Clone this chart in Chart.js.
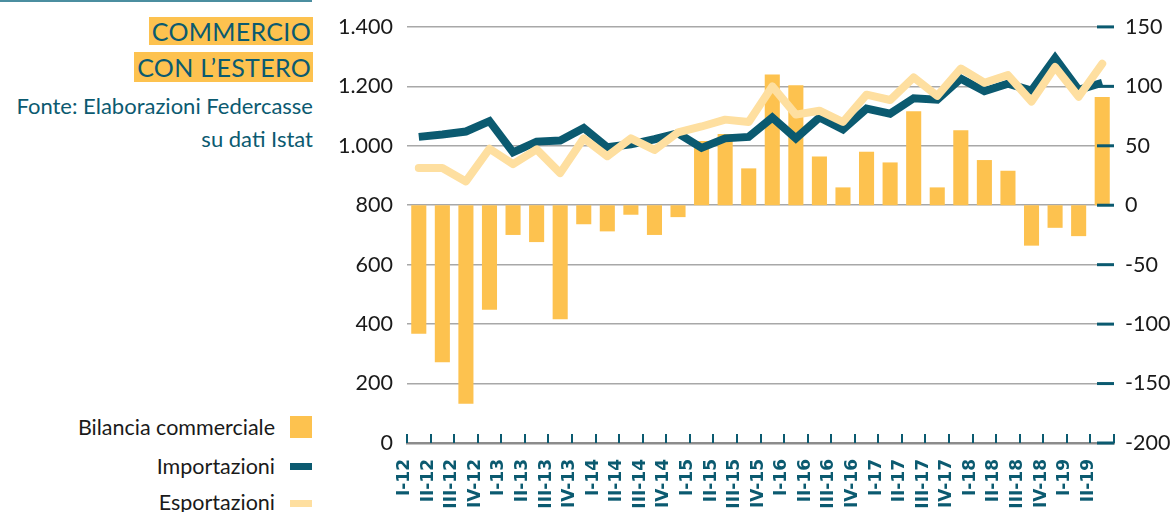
<!DOCTYPE html>
<html lang="it">
<head>
<meta charset="utf-8">
<title>Commercio con l'estero</title>
<script src="https://cdn.jsdelivr.net/npm/chart.js@4.4.0/dist/chart.umd.min.js"></script>
<style>
    html, body { margin: 0; padding: 0; background: #fff; }
    body { width: 1173px; height: 512px; position: relative; overflow: hidden; font-family: Lato, sans-serif; }
    #grafico { position: absolute; left: 0; top: 0; }
    .filetto { position: absolute; left: 0; top: 0; width: 312px; height: 2px; background: #4b8ea0; }
    .titolo { position: absolute; right: 860px; top: 16px; text-align: right; color: #0b5a70; font-size: 25px; letter-spacing: 0.3px; }
    .titolo span { display: inline-block; background: #fdc24f; padding: 0 2px 0 3px; line-height: 28px; }
    .titolo .riga2 { margin-top: 6px; line-height: 30px; }
    .fonte { position: absolute; right: 860px; top: 89px; text-align: right; color: #0b5a70; font-size: 22px; line-height: 33px; }
    .legenda { position: absolute; left: 0; width: 312px; height: 24px; }
    .legenda .testo { position: absolute; right: 37px; top: 0; line-height: 24px; font-size: 21.5px; color: #1a1a1a; white-space: nowrap; }
    .legenda .box { position: absolute; right: 0; width: 22px; }
</style>
</head>
<body>
<div class="filetto"></div>
<div class="titolo"><span>COMMERCIO</span><br><span class="riga2">CON L’ESTERO</span></div>
<div class="fonte">Fonte: Elaborazioni Federcasse<br>su dati Istat</div>

<div class="legenda" style="top:415px"><div class="testo">Bilancia commerciale</div><div class="box" style="top:1px;height:22px;background:#fdc24f"></div></div>
<div class="legenda" style="top:454px"><div class="testo">Importazioni</div><div class="box" style="top:9px;height:7px;background:#0b5a70"></div></div>
<div class="legenda" style="top:490px"><div class="testo">Esportazioni</div><div class="box" style="top:10px;height:7px;background:#fedfa0"></div></div>

<canvas id="grafico" width="1173" height="512"></canvas>

<script>
const categorie = ['I-12', 'II-12', 'III-12', 'IV-12', 'I-13', 'II-13', 'III-13', 'IV-13',
    'I-14', 'II-14', 'III-14', 'IV-14', 'I-15', 'II-15', 'III-15', 'IV-15',
    'I-16', 'II-16', 'III-16', 'IV-16', 'I-17', 'II-17', 'III-17', 'IV-17',
    'I-18', 'II-18', 'III-18', 'IV-18', 'I-19', 'II-19'];

// bilancia commerciale (asse destro)
const bilancia = [-108, -132, -167, -88, -25, -31, -96, -16,
    -22, -8, -25, -10, 54, 60, 31, 110,
    101, 41, 15, 45, 36, 79, 15, 63,
    38, 29, -34, -19, -26, 91];

// asse sinistro
const importazioni = [1030, 1038, 1048, 1083, 978, 1014, 1018, 1060,
    995, 1005, 1022, 1042, 993, 1025, 1030, 1095,
    1025, 1095, 1055, 1125, 1108, 1160, 1155, 1226,
    1184, 1209, 1186, 1295, 1188, 1212];

const esportazioni = [925, 925, 880, 990, 938, 988, 908, 1025,
    965, 1025, 986, 1045, 1065, 1088, 1080, 1200,
    1105, 1118, 1080, 1172, 1154, 1230, 1168, 1260,
    1212, 1238, 1149, 1265, 1165, 1276];

const etichetteSx = ['0', '200', '400', '600', '800', '1.000', '1.200', '1.400'];
const etichetteDx = ['-200', '-150', '-100', '-50', '0', '50', '100', '150'];

const BLU = '#0b5a70';

// tacche blu sugli assi (verso l'interno)
const tacche = {
    id: 'tacche',
    afterDraw(chart) {
        const ctx = chart.ctx;
        const area = chart.chartArea;
        const x = chart.scales.x;
        const y2 = chart.scales.y2;
        ctx.save();
        ctx.strokeStyle = BLU;
        ctx.lineWidth = 3;
        y2.ticks.forEach((t, i) => {
            const py = y2.getPixelForTick(i);
            ctx.beginPath();
            ctx.moveTo(area.right - 17, py);
            ctx.lineTo(area.right, py);
            ctx.stroke();
        });
        ctx.lineWidth = 2;
        for (let i = 0; i <= categorie.length; i++) {
            const px = Math.round(x.getPixelForValue(i - 0.5));
            ctx.beginPath();
            ctx.moveTo(px, area.bottom);
            ctx.lineTo(px, area.bottom - 9);
            ctx.stroke();
        }
        ctx.restore();
    }
};

const ctx = document.getElementById('grafico').getContext('2d');

const myChart = new Chart(ctx, {
    type: 'bar',
    data: {
        labels: categorie,
        datasets: [
            {
                type: 'line',
                label: 'Esportazioni',
                data: esportazioni,
                yAxisID: 'y',
                borderColor: '#fedfa0',
                borderWidth: 8,
                borderCapStyle: 'round',
                borderJoinStyle: 'round',
                pointRadius: 0,
                tension: 0,
                order: 1
            },
            {
                type: 'line',
                label: 'Importazioni',
                data: importazioni,
                yAxisID: 'y',
                borderColor: BLU,
                borderWidth: 8,
                borderJoinStyle: 'miter',
                pointRadius: 0,
                tension: 0,
                order: 2
            },
            {
                label: 'Bilancia commerciale',
                data: bilancia,
                yAxisID: 'y2',
                backgroundColor: '#fdc24f',
                categoryPercentage: 1,
                barPercentage: 0.64,
                order: 3
            }
        ]
    },
    options: {
        responsive: false,
        animation: false,
        layout: { padding: { top: 25, left: 320, right: 0, bottom: 0 } },
        plugins: {
            legend: { display: false },
            tooltip: { enabled: false }
        },
        scales: {
            x: {
                grid: { display: false },
                border: { display: true, color: '#8c8c8c', width: 2.5 },
                ticks: {
                    autoSkip: false,
                    minRotation: 90,
                    maxRotation: 90,
                    padding: 8,
                    labelOffset: -14,
                    color: BLU,
                    font: { family: 'DejaVu Sans', size: 17, weight: 'bold' }
                },
                afterFit: (s) => { s.height = 69; }
            },
            y: {
                position: 'left',
                min: 0,
                max: 1400,
                grid: { color: '#a8a8a8', lineWidth: 1.5, drawTicks: false },
                border: { display: false },
                ticks: {
                    stepSize: 200,
                    padding: 14,
                    color: '#1a1a1a',
                    font: { family: 'Lato', size: 21.5 },
                    callback: (v, i) => etichetteSx[i]
                },
                afterFit: (s) => { s.width = 87; }
            },
            y2: {
                position: 'right',
                min: -200,
                max: 150,
                grid: { display: false },
                border: { display: false },
                ticks: {
                    stepSize: 50,
                    padding: 3,
                    color: '#1a1a1a',
                    font: { family: 'Lato', size: 21.5 },
                    callback: (v, i) => etichetteDx[i]
                },
                afterFit: (s) => { s.width = 59; }
            }
        }
    },
    plugins: [tacche]
});
</script>
</body>
</html>
